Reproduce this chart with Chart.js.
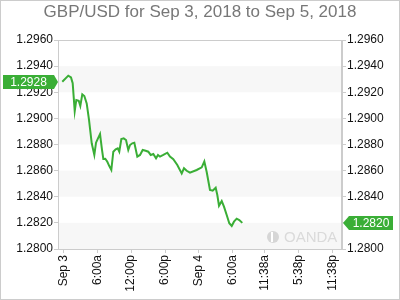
<!DOCTYPE html>
<html>
<head>
<meta charset="utf-8">
<script src="https://cdn.jsdelivr.net/npm/chart.js@4"></script>
<style>
  html, body { margin: 0; padding: 0; background: #fff; }
  #wrap { width: 400px; height: 300px; position: relative; }
</style>
</head>
<body>
<div id="wrap"><canvas id="fx" width="400" height="300"></canvas></div>
<script>
// GBP/USD intraday, x = hours since Sep 3 00:00
const hours = [-0.18, 0.88, 1.36, 1.66, 2.02, 2.30, 2.73, 3.01, 3.36, 3.72, 4.14, 4.55, 5.03, 5.49, 5.79,
  6.14, 6.50, 6.85, 7.08, 7.43, 7.79, 8.14, 8.50, 8.85, 9.27, 9.63, 9.91, 10.27, 10.69, 11.10, 11.50,
  11.81, 12.21, 12.57, 13.10, 13.58, 14.05, 14.58, 15.04, 15.47, 15.93, 16.41, 16.76, 17.12, 17.70,
  18.41, 18.88, 19.47, 20.18, 20.96, 21.36, 21.84, 22.42, 23.61, 24.50, 24.96, 25.38, 25.96, 26.44,
  26.97, 27.26, 27.56, 28.04, 28.44, 28.92, 29.38, 29.81, 30.21, 30.69, 31.15, 31.68];
const rates = [1.2928, 1.29327, 1.29314, 1.29269, 1.29056, 1.29141, 1.29135, 1.29095, 1.29184, 1.29171,
  1.29115, 1.28988, 1.28809, 1.28720, 1.28814, 1.28847, 1.28880, 1.28758, 1.28689, 1.28691, 1.28668,
  1.28635, 1.28605, 1.28745, 1.28763, 1.28771, 1.28745, 1.28842, 1.28847, 1.28834, 1.28758, 1.28796,
  1.28809, 1.28814, 1.28707, 1.28720, 1.28758, 1.28752, 1.28745, 1.28720, 1.28727, 1.28694, 1.28720,
  1.28707, 1.28720, 1.28737, 1.28707, 1.28687, 1.28643, 1.28579, 1.28618, 1.28599, 1.28584, 1.28605,
  1.28625, 1.28670, 1.28589, 1.28452, 1.28446, 1.28469, 1.28413, 1.28331, 1.28367, 1.28324, 1.28260,
  1.28197, 1.28176, 1.28209, 1.28232, 1.28222, 1.2820];
const xTickHours = [0, 6, 12, 18, 24, 30, 35.633, 41.633, 47.633];
const xTickLabels = ['Sep 3', '6:00a', '12:00p', '6:00p', 'Sep 4', '6:00a', '11:38a', '5:38p', '11:38p'];
const firstLabel = '1.2928';
const lastLabel = '1.2820';

const GREEN = '#3aae36';
const FRAME = '#cccccc';

Chart.defaults.font.family = 'Arial, "Liberation Sans", sans-serif';
Chart.defaults.font.size = 12;
Chart.defaults.color = '#111';

const decor = {
  id: 'decor',
  beforeDatasetsDraw(chart) {
    const { ctx, chartArea: a, scales: { y } } = chart;
    ctx.save();
    ctx.fillStyle = '#f7f7f7';
    const t = y.ticks;
    for (let i = 0; i + 1 < t.length; i += 2) {
      const y0 = y.getPixelForValue(t[i].value), y1 = y.getPixelForValue(t[i + 1].value);
      ctx.fillRect(a.left, y1, a.right - a.left, y0 - y1);
    }
    // watermark
    ctx.fillStyle = '#d6d6d6';
    ctx.beginPath();
    ctx.arc(a.right - 69, a.bottom - 12, 6, 0, Math.PI * 2);
    ctx.fill();
    ctx.fillStyle = '#fff';
    ctx.fillRect(a.right - 71, a.bottom - 17, 2, 10);
    ctx.fillStyle = '#dadada';
    ctx.font = '15px Arial, "Liberation Sans", sans-serif';
    ctx.textBaseline = 'middle';
    ctx.fillText('OANDA', a.right - 58, a.bottom - 11);
    ctx.restore();
  },
  afterDraw(chart) {
    const { ctx, chartArea: a, scales: { x, y } } = chart;
    ctx.save();
    ctx.strokeStyle = FRAME;
    ctx.lineWidth = 1;
    ctx.strokeRect(a.left + 0.5, a.top + 0.5, a.right - a.left - 1, a.bottom - a.top);
    ctx.strokeRect(0.5, 0.5, chart.width - 1, chart.height - 1);

    const tag = (val, text, side) => {
      const py = Math.round(y.getPixelForValue(val));
      const h = 14;
      ctx.fillStyle = GREEN;
      ctx.beginPath();
      if (side === 'left') {
        const tip = a.left, r = tip - 4, l = 3;
        ctx.moveTo(l, py - h / 2); ctx.lineTo(r, py - h / 2); ctx.lineTo(tip, py);
        ctx.lineTo(r, py + h / 2); ctx.lineTo(l, py + h / 2);
      } else {
        const tip = a.right + 1, l = tip + 6, r = 393;
        ctx.moveTo(tip, py); ctx.lineTo(l, py - h / 2); ctx.lineTo(r, py - h / 2);
        ctx.lineTo(r, py + h / 2); ctx.lineTo(l, py + h / 2);
      }
      ctx.closePath();
      ctx.fill();
      ctx.fillStyle = '#fff';
      ctx.font = '12px Arial, "Liberation Sans", sans-serif';
      ctx.textBaseline = 'middle';
      ctx.textAlign = 'center';
      const cx = side === 'left' ? (3 + a.left - 4) / 2 : (a.right + 7 + 393) / 2;
      ctx.fillText(text, cx, py + 0.5);
    };
    tag(rates[0], firstLabel, 'left');
    tag(rates[rates.length - 1], lastLabel, 'right');
    ctx.restore();
  }
};

const yTicks = {
  min: 1.28, max: 1.296,
  ticks: { stepSize: 0.002, padding: 1, callback: (v) => Number(v).toFixed(4) },
  grid: { drawOnChartArea: false, drawTicks: true, tickLength: 4, color: FRAME },
  border: { display: true, color: FRAME }
};

new Chart(document.getElementById('fx'), {
  type: 'line',
  data: {
    datasets: [{
      data: hours.map((h, i) => ({ x: h, y: rates[i] })),
      borderColor: GREEN,
      borderWidth: 2,
      pointRadius: 0,
      tension: 0,
      fill: false
    }]
  },
  options: {
    responsive: false,
    animation: false,
    layout: { padding: 0 },
    plugins: {
      legend: { display: false },
      tooltip: { enabled: false },
      title: {
        display: true,
        text: 'GBP/USD for Sep 3, 2018 to Sep 5, 2018',
        color: '#777',
        font: { size: 17, weight: 'normal' },
        padding: { top: 2, bottom: 17.6 }
      }
    },
    scales: {
      x: {
        type: 'linear',
        min: -0.94, max: 49.33,
        afterBuildTicks: (s) => { s.ticks = xTickHours.map((v) => ({ value: v })); },
        afterFit: (s) => { s.height = 51; },
        ticks: {
          autoSkip: false, minRotation: 90, maxRotation: 90, padding: 2,
          callback: (v, i) => xTickLabels[i]
        },
        grid: { drawOnChartArea: false, drawTicks: true, tickLength: 4, color: FRAME },
        border: { display: true, color: FRAME }
      },
      y: { ...yTicks, position: 'left', afterFit: (s) => { s.width = 58; } },
      y2: { ...yTicks, position: 'right', afterFit: (s) => { s.width = 58; } }
    }
  },
  plugins: [decor]
});
</script>
</body>
</html>
